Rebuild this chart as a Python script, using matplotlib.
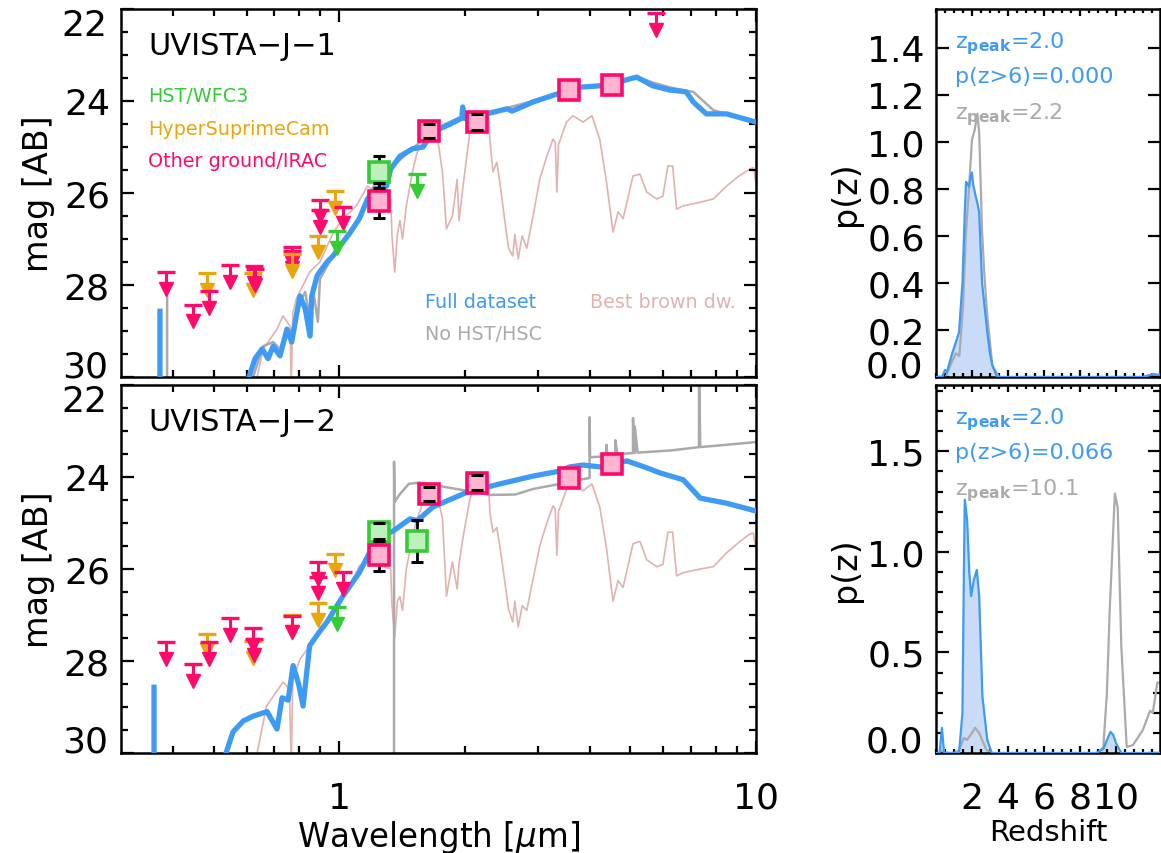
import numpy as np
import matplotlib
matplotlib.use('Agg')
import matplotlib.pyplot as plt
from matplotlib.ticker import MultipleLocator, FixedLocator, NullFormatter, FuncFormatter
from matplotlib.transforms import offset_copy

plt.rcParams['font.family'] = ['DejaVu Sans']
plt.rcParams['mathtext.fontset'] = 'dejavusans'

BLUE = '#3d9af5'
GRAY = '#aaaaaa'
BDCOL = '#e2b2ae'
PINK = '#ff0a6a'
PINKF = '#ffb3d0'
GREEN = '#33cc33'
GREENF = '#bdf0bd'
ORANGE = '#e8a60c'
FILLC = '#c9dbf7'

# ---------------- SED data: UVISTA-J-1 ----------------
blue1_lam = [0.372, 0.372, np.nan,
             0.598, 0.629, 0.654, 0.676, 0.695, 0.722, 0.75, 0.77, 0.79, 0.806, 0.83, 0.852, 0.86,
             0.886, 0.91, 0.936, 0.967, 1.0, 1.06, 1.12, 1.17, 1.23, 1.3, 1.33, 1.4, 1.5, 1.59, 1.68,
             1.85, 1.97, 1.98, 1.99, 2.03, 2.26, 2.53, 2.6, 2.92, 3.33, 3.78, 4.22, 4.8, 5.17, 5.66,
             6.2, 6.8, 7.07, 7.6, 8.5, 10.0]
blue1_mag = [30.3, 28.57, np.nan,
             30.2, 29.6, 29.39, 29.6, 29.33, 29.54, 28.96, 29.24, 28.67, 28.24, 28.52, 29.11, 28.24,
             27.8, 27.65, 27.5, 27.37, 27.18, 26.88, 26.55, 26.13, 25.9, 25.85, 25.48, 25.2, 25.04, 25.0, 24.67,
             24.5, 24.37, 24.13, 24.37, 24.39, 24.28, 24.17, 24.22, 24.02, 23.85, 23.7, 23.67, 23.56, 23.48, 23.67,
             23.76, 23.8, 24.02, 24.28, 24.28, 24.46]
gray1_lam = [0.387, 0.387, np.nan,
             0.612, 0.658, 0.695, 0.722, 0.75, 0.77, 0.806, 0.83, 0.845, 0.866, 0.89, 0.9, 0.936,
             0.967, 1.0, 1.06, 1.12, 1.17, 1.25, 1.35, 1.56, 1.68, 1.85, 1.98, 2.26, 2.53, 2.92, 3.33,
             3.78, 4.22, 4.8, 5.17, 5.66, 6.2, 6.8, 7.07, 7.9, 8.5, 10.0]
gray1_mag = [30.3, 28.26, np.nan,
             30.2, 29.33, 29.24, 29.4, 28.96, 29.02, 28.37, 28.15, 28.6, 28.09, 28.8, 27.87, 27.59,
             27.37, 27.15, 26.85, 26.5, 26.1, 25.63, 25.41, 24.9, 24.62, 24.45, 24.33, 24.25, 24.15, 24.0, 23.83,
             23.69, 23.65, 23.55, 23.47, 23.6, 23.7, 23.78, 23.8, 24.2, 24.28, 24.46]
bd1_lam = [0.629, 0.658, 0.71, 0.734, 0.763, 0.768, 0.775, 0.79, 0.85, 0.9, 0.97, 1.02, 1.10, 1.17, 1.23,
           1.33, 1.34, 1.36, 1.38, 1.40, 1.42, 1.45, 1.50, 1.54, 1.62, 1.72, 1.77, 1.81, 1.87, 1.92, 1.94,
           1.98, 2.06, 2.14, 2.24, 2.28, 2.30, 2.34, 2.39, 2.43, 2.50, 2.55, 2.61, 2.64, 2.69, 2.75, 2.82,
           2.92, 3.03, 3.15, 3.26, 3.30, 3.33, 3.36, 3.51, 3.64, 3.85, 4.04, 4.22, 4.38, 4.54, 4.67, 4.8,
           5.07, 5.27, 5.47, 5.78, 5.98, 6.15, 6.31, 6.45, 6.69, 7.35, 7.9, 8.5, 9.1, 9.66, 9.85, 10.0]
bd1_mag = [30.2, 29.39, 28.96, 28.67, 28.9, 30.2, 28.6, 28.3, 27.72, 27.5, 26.85, 26.57, 26.28, 25.85, 25.98,
           26.13, 26.93, 27.72, 26.9, 26.6, 27.0, 26.28, 25.54, 25.11, 24.76, 24.76, 25.54, 26.78, 26.5, 25.7, 26.6,
           25.9, 24.67, 24.33, 24.24, 24.26, 24.83, 25.54, 25.33, 25.76, 26.63, 27.2, 27.37, 26.9, 27.43, 26.93, 27.2,
           26.5, 25.7, 25.2, 24.83, 24.9, 25.98, 24.95, 24.46, 24.32, 24.46, 24.32, 24.83, 25.76, 26.85, 26.41, 26.56,
           25.63, 25.59, 25.98, 26.13, 26.07, 25.41, 25.41, 26.35, 26.28, 26.2, 26.13, 25.85, 25.63, 25.48, 25.45, 25.76]

# detections: lam, mag, err, instrument
det1_lam = [1.25, 1.25, 1.64, 2.14, 3.56, 4.52]
det1_mag = [25.54, 26.17, 24.65, 24.46, 23.76, 23.65]
det1_err = [0.35, 0.38, 0.16, 0.17, 0.0, 0.0]
det1_src = ['hst', 'oth', 'oth', 'oth', 'oth', 'oth']
# upper limits
lim1_lam = [0.385, 0.447, 0.482, 0.488, 0.548, 0.622, 0.625, 0.628, 0.771, 0.771, 0.771,
            0.90, 0.90, 0.89, 0.978, 1.022, 0.99, 1.54, 5.76]
lim1_mag = [27.72, 28.43, 27.74, 28.13, 27.57, 27.74, 27.59, 27.65, 27.17, 27.26, 27.33,
            26.15, 26.37, 26.93, 25.96, 26.30, 26.83, 25.59, 22.09]
lim1_src = ['oth', 'oth', 'hsc', 'oth', 'oth', 'hsc', 'oth', 'oth', 'oth', 'oth', 'hsc',
            'oth', 'oth', 'hsc', 'hsc', 'oth', 'hst', 'hst', 'oth']

# ---------------- SED data: UVISTA-J-2 ----------------
blue2_lam = [0.36, 0.36, np.nan,
             0.527, 0.557, 0.59, 0.622, 0.672, 0.71, 0.73, 0.755, 0.776, 0.8, 0.82, 0.85, 0.9, 0.936,
             1.02, 1.12, 1.23, 1.35, 1.48, 1.54, 1.68, 2.03, 2.43, 2.92, 3.39, 3.58, 3.85, 4.22, 4.9,
             5.47, 5.88, 6.69, 7.35, 8.5, 10.0]
blue2_mag = [30.3, 28.57, np.nan,
             30.2, 29.54, 29.3, 29.2, 29.1, 29.48, 28.8, 28.85, 28.1, 28.5, 28.98, 27.67, 27.35, 27.15,
             26.6, 26.07, 25.35, 25.17, 24.91, 24.95, 24.65, 24.33, 24.15, 23.98, 23.87, 23.78, 23.74, 23.78, 23.65,
             23.8, 23.91, 24.06, 24.46, 24.57, 24.74]
gray2_lam = [1.355, 1.355, 1.36, 1.40, 1.47, 1.56, 1.8, 2.03, 2.3, 2.65, 2.92, 3.39, 3.6, 3.99, 3.99, 4.0,
             4.38, 4.38, 4.4, 4.6, 4.6, 4.65, 5.07, 5.07, 5.12, 5.12, 5.2, 6.3, 7.3, 7.3, 7.35, 8.5, 10.0]
gray2_mag = [30.3, 23.67, 24.54, 24.37, 24.15, 24.12, 24.22, 24.3, 24.39, 24.38, 24.26, 24.15, 24.1, 24.02, 22.7, 23.57,
             23.55, 23.3, 23.55, 23.5, 23.2, 23.5, 23.48, 22.72, 23.48, 22.9, 23.47, 23.42, 23.35, 21.5, 23.35, 23.3, 23.24]
bd2_lam = [0.63, 0.67, 0.734, 0.76, 0.768, 0.775, 0.806, 0.9, 0.97, 1.06, 1.12, 1.17, 1.23,
           1.33, 1.34, 1.36, 1.38, 1.40, 1.42, 1.45, 1.50, 1.54, 1.62, 1.72, 1.77, 1.81, 1.87, 1.92, 1.94,
           1.98, 2.06, 2.14, 2.24, 2.28, 2.30, 2.34, 2.39, 2.43, 2.50, 2.55, 2.61, 2.64, 2.69, 2.75, 2.82,
           2.92, 3.03, 3.15, 3.26, 3.30, 3.33, 3.36, 3.51, 3.64, 3.85, 4.04, 4.22, 4.38, 4.54, 4.67, 4.8,
           5.07, 5.27, 5.47, 5.78, 5.98, 6.15, 6.31, 6.45, 6.69, 7.35, 7.9, 8.5, 9.1, 9.66, 9.85, 10.0]
bd2_mag = [30.2, 28.98, 28.46, 28.6, 30.2, 28.4, 27.96, 27.37, 26.93, 26.37, 25.93, 25.83, 25.9,
           26.0, 26.8, 27.5, 26.7, 26.6, 26.9, 26.0, 25.3, 24.9, 24.35, 24.4, 24.9, 26.59, 25.85, 26.43, 25.9,
           25.35, 24.48, 24.04, 23.98, 24.0, 24.76, 25.2, 25.1, 25.5, 26.3, 26.87, 27.15, 26.7, 27.26, 26.8, 26.9,
           26.22, 25.5, 25.0, 24.63, 24.7, 25.7, 24.75, 24.28, 24.15, 24.3, 24.15, 24.65, 25.55, 26.7, 26.25, 26.4,
           25.45, 25.4, 25.8, 25.95, 25.9, 25.2, 25.2, 26.15, 26.08, 26.0, 25.95, 25.65, 25.42, 25.24, 25.22, 25.55]

det2_lam = [1.25, 1.25, 1.54, 1.64, 2.14, 3.56, 4.52]
det2_mag = [25.2, 25.70, 25.39, 24.37, 24.12, 24.02, 23.72]
det2_err = [0.2, 0.35, 0.46, 0.15, 0.17, 0.0, 0.0]
det2_src = ['hst', 'oth', 'hst', 'oth', 'oth', 'oth', 'oth']
lim2_lam = [0.385, 0.447, 0.482, 0.488, 0.548, 0.622, 0.622, 0.625, 0.771, 0.771,
            0.89, 0.89, 0.89, 0.978, 1.022, 0.99]
lim2_mag = [27.59, 28.07, 27.41, 27.59, 27.07, 27.57, 27.29, 27.52, 27.0, 27.02,
            25.85, 26.17, 26.74, 25.67, 26.07, 26.83]
lim2_src = ['oth', 'oth', 'hsc', 'oth', 'oth', 'hsc', 'oth', 'oth', 'hsc', 'oth',
            'oth', 'oth', 'hsc', 'hsc', 'oth', 'hst']

# ---------------- p(z) data ----------------
pz1_blue_z = [0, 0.34, 0.5, 0.6, 0.9, 1.28, 1.47, 1.6, 1.67, 1.75, 1.84, 1.92, 2.0, 2.06, 2.12, 2.2, 2.3,
              2.4, 2.56, 2.7, 2.85, 3.0, 3.13, 3.4, 11.5, 12.0, 12.45]
pz1_blue_p = [0, 0, 0.03, 0.02, 0.1, 0.19, 0.4, 0.7, 0.83, 0.82, 0.81, 0.85, 0.87, 0.82, 0.8, 0.77, 0.74,
              0.7, 0.40, 0.3, 0.19, 0.1, 0.05, 0, 0, 0.01, 0.01]
pz1_gray_z = [0, 0.55, 0.8, 1.1, 1.3, 1.5, 1.67, 1.84, 2.0, 2.15, 2.3, 2.4, 2.56, 2.7, 2.85, 3.13, 3.5,
              11.5, 12.1, 12.45]
pz1_gray_p = [0, 0, 0.05, 0.1, 0.09, 0.3, 0.62, 0.81, 1.01, 1.05, 1.12, 1.04, 0.62, 0.42, 0.26, 0.05, 0,
              0, 0.013, 0.005]
pz2_blue_z = [0, 0.2, 0.33, 0.45, 1.28, 1.47, 1.55, 1.6, 1.73, 1.85, 1.95, 2.1, 2.27, 2.4, 2.58, 2.85, 3.1,
              8.9, 9.3, 9.5, 9.7, 9.85, 10.0, 10.3, 12.45]
pz2_blue_p = [0, 0, 0.125, 0, 0, 0.2, 0.9, 1.26, 1.16, 0.9, 0.78, 0.86, 0.91, 0.78, 0.28, 0.065, 0,
              0, 0.02, 0.065, 0.105, 0.09, 0.05, 0, 0]
pz2_gray_z = [0, 0.3, 0.33, 0.4, 1.0, 1.28, 1.56, 1.73, 2.0, 2.17, 2.4, 2.8, 3.1, 9.0, 9.3, 9.5, 9.65, 9.94,
              10.1, 10.3, 10.6, 10.95, 11.5, 11.9, 12.05, 12.15, 12.3, 12.45]
pz2_gray_p = [0, 0, 0.01, 0, 0, 0.015, 0.075, 0.065, 0.1, 0.125, 0.1, 0.015, 0, 0, 0.03, 0.3, 0.7, 1.29,
              1.22, 0.53, 0.03, 0.04, 0.115, 0.21, 0.2, 0.26, 0.35, 0.35]

pz_text = [('2.0', '0.000', '2.2'), ('2.0', '0.066', '10.1')]

src_col = {'hst': GREEN, 'hsc': ORANGE, 'oth': PINK}
src_face = {'hst': GREENF, 'oth': PINKF}

TICKFS = 26
YPAD = 8

W, H = 1161, 854
fig = plt.figure(figsize=(W / 100, H / 100), dpi=100)


def style(ax):
    ax.tick_params(which='both', direction='in', top=True, right=True, width=1.6)
    ax.tick_params(which='major', length=9, labelsize=TICKFS)
    ax.tick_params(which='minor', length=5)
    ax.tick_params(axis='y', pad=YPAD)
    ax.tick_params(axis='x', pad=20)
    for s in ax.spines.values():
        s.set_linewidth(1.8)


def edge_labels(ax, fmt, bottom_val, top_val):
    # end labels are kept inside the frame: blank them on the axis, write them by hand
    ax.yaxis.set_major_formatter(FuncFormatter(
        lambda v, p: '' if (np.isclose(v, bottom_val) or (top_val is not None and np.isclose(v, top_val)))
        else fmt % v))
    tr = offset_copy(ax.transAxes, fig=fig, x=-(YPAD + 1.5) * 100 / 72, y=1, units='dots')
    ax.text(0, 0, fmt % bottom_val, transform=tr, ha='right', va='baseline', fontsize=TICKFS)
    if top_val is not None:
        ax.text(0, 1, fmt % top_val, transform=tr, ha='right', va='top', fontsize=TICKFS)


def upper(ax, lam, mag, src):
    for l, m, s in zip(lam, mag, src):
        c = src_col[s]
        ax.vlines(l, m, m + 0.33, color=c, lw=2.2, zorder=5)
        ax.plot(l, m + 0.36, 'v', color=c, ms=9.5, mec=c, zorder=5)
        ax.plot(l, m, '_', color=c, ms=13, mew=2.4, zorder=5)


def sed_panel(ax, blam, bmag, glam, gmag, dlam, dmag, det_lam, det_mag, det_err, det_src,
              lim_lam, lim_mag, lim_src, name, legend):
    ax.plot(dlam, dmag, color=BDCOL, lw=1.2, zorder=1)
    ax.plot(glam, gmag, color=GRAY, lw=1.8, zorder=2)
    ax.plot(blam, bmag, color=BLUE, lw=3.8, zorder=3)
    upper(ax, lim_lam, lim_mag, lim_src)
    for l, m, e, s in zip(det_lam, det_mag, det_err, det_src):
        if e > 0:
            ax.vlines(l, m - e, m + e, color='k', lw=2, zorder=6)
        ax.plot(l, m, 's', ms=14, mfc=src_face[s], mec=src_col[s], mew=2.6, zorder=7)
        if e > 0:
            ax.plot([l, l], [m - e, m + e], '_', color='k', ms=9, mew=2.2, zorder=8)
    ax.set_xscale('log')
    ax.set_xlim(0.3, 10)
    ax.set_ylim(30, 22)
    ax.yaxis.set_major_locator(FixedLocator([22, 24, 26, 28, 30]))
    ax.yaxis.set_minor_locator(MultipleLocator(0.5))
    ax.xaxis.set_major_locator(FixedLocator([1, 10]))
    ax.xaxis.set_minor_locator(FixedLocator([0.4, 0.5, 0.6, 0.7, 0.8, 0.9, 2, 3, 4, 5, 6, 7, 8, 9]))
    ax.xaxis.set_minor_formatter(NullFormatter())
    ax.xaxis.set_major_formatter(FuncFormatter(lambda v, p: '%d' % round(v)))
    style(ax)
    edge_labels(ax, '%d', 30, 22)
    ax.set_ylabel('mag [AB]', fontsize=24, labelpad=6)
    ax.text(0.043, 0.9, name, transform=ax.transAxes, fontsize=22, va='center')
    if legend:
        fs = 13.8
        ax.text(0.043, 0.764, 'HST/WFC3', color=GREEN, transform=ax.transAxes, fontsize=fs, va='center')
        ax.text(0.043, 0.674, 'HyperSuprimeCam', color=ORANGE, transform=ax.transAxes, fontsize=fs, va='center')
        ax.text(0.043, 0.587, 'Other ground/IRAC', color=PINK, transform=ax.transAxes, fontsize=fs, va='center')
        ax.text(0.479, 0.204, 'Full dataset', color=BLUE, transform=ax.transAxes, fontsize=fs, va='center')
        ax.text(0.479, 0.117, 'No HST/HSC', color=GRAY, transform=ax.transAxes, fontsize=fs, va='center')
        ax.text(0.739, 0.204, 'Best brown dw.', color=BDCOL, transform=ax.transAxes, fontsize=fs, va='center')


def pz_panel(ax, bz, bp, gz, gp, txt, ymax, majors, minor):
    ax.fill_between(bz, 0, bp, color=FILLC, lw=0, zorder=1)
    ax.plot(gz, gp, color=GRAY, lw=1.6, zorder=2)
    ax.plot(bz, bp, color=BLUE, lw=1.6, zorder=3)
    ax.set_xlim(0, 12.45)
    ax.set_ylim(0, ymax)
    ax.xaxis.set_major_locator(FixedLocator([2, 4, 6, 8, 10]))
    ax.xaxis.set_minor_locator(MultipleLocator(0.5))
    ax.yaxis.set_major_locator(FixedLocator(majors))
    if minor:
        ax.yaxis.set_minor_locator(MultipleLocator(minor))
    style(ax)
    ax.tick_params(which='major', axis='x', length=5)
    ax.tick_params(which='minor', axis='x', length=3)
    edge_labels(ax, '%.1f', 0.0, None)
    ax.set_ylabel('p(z)', fontsize=24, labelpad=4)
    zp, p6, zg = txt
    fs = 16
    ax.text(0.085, 0.91, r'z$_{\mathbf{peak}}$=' + zp, color=BLUE, transform=ax.transAxes, fontsize=fs, va='center')
    ax.text(0.085, 0.818, 'p(z>6)=' + p6, color=BLUE, transform=ax.transAxes, fontsize=fs, va='center')
    ax.text(0.085, 0.715, r'z$_{\mathbf{peak}}$=' + zg, color=GRAY, transform=ax.transAxes, fontsize=fs, va='center')


x0, wl = 121 / W, 635 / W
xr, wr = 936 / W, 224 / W
h = 368 / H
ax1 = fig.add_axes([x0, 1 - 378 / H, wl, h])
ax2 = fig.add_axes([x0, 1 - 754 / H, wl, h])
ax3 = fig.add_axes([xr, 1 - 378 / H, wr, h])
ax4 = fig.add_axes([xr, 1 - 754 / H, wr, h])

sed_panel(ax1, blue1_lam, blue1_mag, gray1_lam, gray1_mag, bd1_lam, bd1_mag, det1_lam, det1_mag, det1_err,
          det1_src, lim1_lam, lim1_mag, lim1_src, 'UVISTA\u2212J\u22121', True)
sed_panel(ax2, blue2_lam, blue2_mag, gray2_lam, gray2_mag, bd2_lam, bd2_mag, det2_lam, det2_mag, det2_err,
          det2_src, lim2_lam, lim2_mag, lim2_src, 'UVISTA\u2212J\u22122', False)
ax1.tick_params(labelbottom=False)
ax2.set_xlabel(r'Wavelength [$\mu$m]', fontsize=23.5, labelpad=2)

pz_panel(ax3, pz1_blue_z, pz1_blue_p, pz1_gray_z, pz1_gray_p, pz_text[0], 1.565,
         [0.0, 0.2, 0.4, 0.6, 0.8, 1.0, 1.2, 1.4], None)
pz_panel(ax4, pz2_blue_z, pz2_blue_p, pz2_gray_z, pz2_gray_p, pz_text[1], 1.83,
         [0.0, 0.5, 1.0, 1.5], 0.1)
ax3.tick_params(labelbottom=False)
ax4.set_xlabel('Redshift', fontsize=21, labelpad=2)

fig.savefig('out.png', dpi=100)
